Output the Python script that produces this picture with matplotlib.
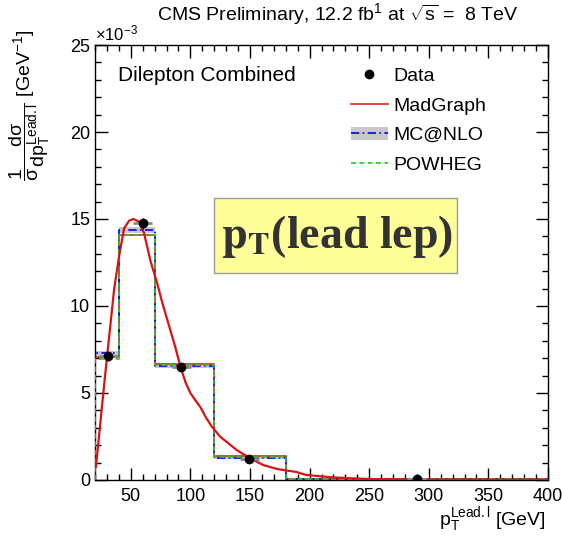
import numpy as np
import matplotlib
matplotlib.use('Agg')
import matplotlib.pyplot as plt
from matplotlib.patches import Patch, Rectangle
from matplotlib.lines import Line2D
from matplotlib.ticker import MultipleLocator

plt.rcParams['font.family'] = ['Liberation Sans', 'DejaVu Sans']
plt.rcParams['mathtext.fontset'] = 'custom'
plt.rcParams['mathtext.rm'] = 'Liberation Sans'
plt.rcParams['mathtext.it'] = 'Liberation Sans'
plt.rcParams['mathtext.bf'] = 'Liberation Sans:bold'

# bin edges in GeV, values in units of 1e-3 GeV^-1
bin_edges = [20, 40, 70, 120, 180, 400]
madgraph_hist = [7.05, 14.08, 6.65, 1.38, 0.05]
mcatnlo_hist = [7.28, 14.37, 6.57, 1.28, 0.05]
mcatnlo_unc = [0.15, 0.18, 0.12, 0.08, 0.02]
powheg_hist = [6.98, 14.08, 6.62, 1.33, 0.05]

data_x = [31, 60, 92.5, 149.5, 290]
data_y = [7.1, 14.75, 6.47, 1.21, 0.03]
data_yerr = [0.25, 0.3, 0.15, 0.06, 0.01]

# MadGraph fine-binned curve
curve_x = [20.8, 25, 27.8, 30.6, 36.1, 40.3, 44.4, 48.6, 52.2, 56.9, 61.1,
           66.7, 72.2, 76.4, 82.8, 87.5, 91.7, 96, 100, 104, 108.3, 113, 118,
           125, 132, 138.9, 150, 161.1, 172.2, 180, 188.9, 197, 219, 247, 280,
           320, 360, 400]
curve_y = [0.75, 3.64, 5.56, 7.4, 11.0, 12.9, 14.46, 14.9, 15.0, 14.85, 14.2,
           12.55, 11.3, 10.2, 8.7, 7.6, 6.5, 5.6, 5.0, 4.6, 4.2, 3.6, 3.07,
           2.49, 2.1, 1.72, 1.25, 0.86, 0.64, 0.55, 0.46, 0.29, 0.15, 0.06, 0.03,
           0.02, 0.015, 0.01]


def step_xy(edges, vals):
    xs = np.repeat(edges, 2)[1:-1]
    ys = np.repeat(vals, 2)
    return np.concatenate([[edges[0]], xs, [edges[-1]]]), np.concatenate([[0], ys, [0]])


fig = plt.figure(figsize=(5.62, 5.39), dpi=100)
ax = fig.add_axes([95 / 562, 0.1095, 453 / 562, 0.8070])

# MC@NLO uncertainty band
for i in range(len(mcatnlo_hist)):
    ax.fill_between([bin_edges[i], bin_edges[i + 1]],
                    mcatnlo_hist[i] - mcatnlo_unc[i], mcatnlo_hist[i] + mcatnlo_unc[i],
                    color='#c8c8c8', lw=0, zorder=1)

sx, sy = step_xy(bin_edges, mcatnlo_hist)
ax.plot(sx, sy, color='blue', ls=(0, (5, 2, 1, 2)), lw=1.2, zorder=3)
sx, sy = step_xy(bin_edges, powheg_hist)
ax.plot(sx, sy, color='#22cc22', ls=(0, (3, 2)), lw=1.2, zorder=3)
sx, sy = step_xy(bin_edges, madgraph_hist)
ax.plot(sx, sy, color='#dd2222', lw=1.2, zorder=2)

ax.plot(curve_x, curve_y, color='#dd1111', lw=1.6, zorder=4)

ax.errorbar(data_x, data_y, xerr=8, fmt='none', ecolor='#888888', elinewidth=2, zorder=5)
ax.errorbar(data_x, data_y, yerr=data_yerr, fmt='o', color='black', ms=6,
            elinewidth=1, capsize=0, zorder=6)

ax.set_xlim(20, 400)
ax.set_ylim(0, 25)
ax.xaxis.set_major_locator(MultipleLocator(50))
ax.xaxis.set_minor_locator(MultipleLocator(10))
ax.yaxis.set_major_locator(MultipleLocator(5))
ax.yaxis.set_minor_locator(MultipleLocator(1))
ax.tick_params(which='both', direction='in', top=True, right=True, labelsize=13, width=1)
ax.tick_params(which='major', length=9)
ax.tick_params(which='minor', length=4.5)
ax.tick_params(axis='x', pad=6)
for sp in ax.spines.values():
    sp.set_linewidth(1)

ax.text(0.0, 1.003, r'$\times 10^{-3}$', transform=ax.transAxes, fontsize=12, va='bottom', ha='left')
fig.text(0.600, 0.973, r'CMS Preliminary, 12.2 fb$^{1}$ at $\sqrt{s}$ =  8 TeV',
         fontsize=14, ha='center', va='center')

# axis titles placed like ROOT (top / right aligned)
fig.text(30 / 562, 1 - 30 / 539,
         r'$\dfrac{1}{\sigma}\dfrac{d\sigma}{dp_{T}^{Lead.l}}$ [GeV$^{-1}$]',
         fontsize=14, rotation=90, ha='center', va='top')
fig.text(546 / 562, 1 - 520 / 539, r'p$_{T}^{Lead.l}$ [GeV]', fontsize=14,
         ha='right', va='center')

ax.text(0.05, 0.93, 'Dilepton Combined', transform=ax.transAxes, fontsize=15, va='center')

handles = [
    Line2D([], [], marker='o', color='black', ls='none', ms=6),
    Line2D([], [], color='#dd2222', lw=1.2),
    (Patch(facecolor='#c8c8c8', edgecolor='none'), Line2D([], [], color='blue', ls=(0, (5, 2, 1, 2)), lw=1.2)),
    Line2D([], [], color='#22cc22', ls=(0, (3, 2)), lw=1.2),
]
labels = ['Data', 'MadGraph', 'MC@NLO', 'POWHEG']
ax.legend(handles, labels, loc='upper left', bbox_to_anchor=(0.535, 0.98), frameon=False,
          fontsize=14, handlelength=1.9, handletextpad=0.3, labelspacing=0.62,
          borderaxespad=0.3)

# label box
fig.patches.append(Rectangle((0.381, 0.493), 0.432, 0.140, transform=fig.transFigure,
                             facecolor='#ffff99', edgecolor='#999999', lw=1, zorder=10))
fig.text(0.599, 0.562, r'$\mathbf{p_{T}}$(lead lep)', fontsize=33, fontweight='bold',
         family='Liberation Serif', math_fontfamily='stix', color='#333333',
         ha='center', va='center', zorder=11)

fig.savefig('out.png', dpi=100)
